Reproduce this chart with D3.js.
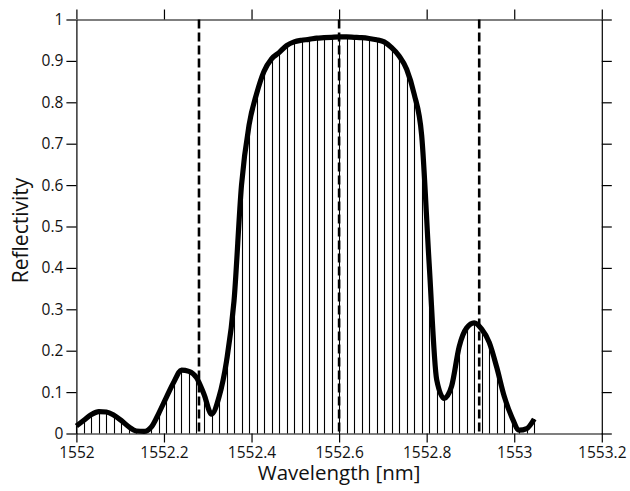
<!DOCTYPE html>
<html>
<head>
<meta charset="utf-8">
<script src="https://cdn.jsdelivr.net/npm/d3@7"></script>
<style>
  body { margin: 0; background: #fff; }
  text { font-family: "Open Sans", "Noto Sans", sans-serif; fill: #111; }
</style>
</head>
<body>
<div class="chart"></div>
<script>
// sample grid of the spectrum (nm)
const wavelength = [
  1552.0000, 1552.0171, 1552.0343, 1552.0514, 1552.0686, 1552.0857, 1552.1029, 1552.1200,
  1552.1371, 1552.1543, 1552.1714, 1552.1886, 1552.2057, 1552.2229, 1552.2400, 1552.2571,
  1552.2743, 1552.2914, 1552.3086, 1552.3257, 1552.3429, 1552.3600, 1552.3771, 1552.3943,
  1552.4114, 1552.4286, 1552.4457, 1552.4629, 1552.4800, 1552.4971, 1552.5143, 1552.5314,
  1552.5486, 1552.5657, 1552.5829, 1552.6000, 1552.6171, 1552.6343, 1552.6514, 1552.6686,
  1552.6857, 1552.7029, 1552.7200, 1552.7371, 1552.7543, 1552.7714, 1552.7886, 1552.8057,
  1552.8229, 1552.8400, 1552.8571, 1552.8743, 1552.8914, 1552.9086, 1552.9257, 1552.9429,
  1552.9600, 1552.9771, 1552.9943, 1553.0114, 1553.0286, 1553.0457
];
const reflectivity = [
  0.018, 0.032, 0.046, 0.053, 0.052, 0.044, 0.031, 0.016,
  0.006, 0.005, 0.016, 0.050, 0.088, 0.125, 0.153, 0.150,
  0.135, 0.095, 0.047, 0.088, 0.175, 0.320, 0.600, 0.745,
  0.820, 0.875, 0.905, 0.920, 0.937, 0.946, 0.950, 0.952,
  0.955, 0.956, 0.957, 0.958, 0.958, 0.957, 0.956, 0.954,
  0.951, 0.946, 0.932, 0.912, 0.880, 0.820, 0.720, 0.410,
  0.130, 0.085, 0.115, 0.210, 0.255, 0.267, 0.252, 0.220,
  0.160, 0.090, 0.040, 0.008, 0.012, 0.035
];
// dashed reference wavelengths
const markers = [1552.28, 1552.6, 1552.92];

const xTicks = [1552, 1552.2, 1552.4, 1552.6, 1552.8, 1553, 1553.2];
const yTicks = [0, 0.1, 0.2, 0.3, 0.4, 0.5, 0.6, 0.7, 0.8, 0.9, 1];

const width = 630, height = 491;
const plotLeft = 76.4, plotRight = 601.8, plotTop = 19.5, plotBottom = 433.5;

const svg = d3.select(".chart")
    .append("svg")
    .attr("width", width)
    .attr("height", height);

const x = d3.scaleLinear().domain([1552, 1553.2]).range([plotLeft, plotRight]);
const y = d3.scaleLinear().domain([0, 1]).range([plotBottom, plotTop]);

const pts = wavelength.map((w, i) => ({w: w, r: reflectivity[i]}));

// vertical hatching under the curve
svg.append("g")
    .selectAll("line")
    .data(pts)
    .join("line")
    .attr("x1", d => Math.round(x(d.w)) + 0.5).attr("x2", d => Math.round(x(d.w)) + 0.5)
    .attr("y1", y(0)).attr("y2", d => y(d.r))
    .attr("stroke", "#000")
    .attr("stroke-width", 1.1);

// axes on all four sides, ticks outward
function styleAxis(g) {
    g.selectAll("path, line").attr("stroke", "#000").attr("stroke-width", 1.2);
    g.selectAll("text").attr("font-size", 15.5).attr("fill", "#111")
        .attr("font-family", "'Open Sans', 'Noto Sans', sans-serif");
}

svg.append("g")
    .attr("transform", `translate(0,${plotBottom})`)
    .call(d3.axisBottom(x).tickValues(xTicks).tickFormat(d => d).tickSize(9).tickSizeOuter(0).tickPadding(4))
    .call(styleAxis);

svg.append("g")
    .attr("transform", `translate(0,${plotTop})`)
    .call(d3.axisTop(x).tickValues(xTicks).tickFormat("").tickSize(10).tickSizeOuter(0))
    .call(styleAxis);

svg.append("g")
    .attr("transform", `translate(${plotLeft},0)`)
    .call(d3.axisLeft(y).tickValues(yTicks).tickFormat(d => d).tickSize(10).tickSizeOuter(0).tickPadding(3))
    .call(styleAxis);

svg.append("g")
    .attr("transform", `translate(${plotRight},0)`)
    .call(d3.axisRight(y).tickValues(yTicks).tickFormat("").tickSize(10).tickSizeOuter(0))
    .call(styleAxis);

// dashed markers
svg.append("g")
    .selectAll("line")
    .data(markers)
    .join("line")
    .attr("x1", d => x(d)).attr("x2", d => x(d))
    .attr("y1", plotTop).attr("y2", plotBottom)
    .attr("stroke", "#000")
    .attr("stroke-width", 2.6)
    .attr("stroke-dasharray", "9,4");

// reflectivity curve
const line = d3.line()
    .x(d => x(d.w))
    .y(d => y(d.r))
    .curve(d3.curveMonotoneX);

svg.append("path")
    .datum(pts)
    .attr("d", line)
    .attr("fill", "none")
    .attr("stroke", "#000")
    .attr("stroke-width", 5.2)
    .attr("stroke-linejoin", "round");

// axis titles
svg.append("text")
    .attr("x", (plotLeft + plotRight) / 2)
    .attr("y", 480)
    .attr("text-anchor", "middle")
    .attr("font-size", 20.5)
    .text("Wavelength [nm]");

svg.append("text")
    .attr("transform", `translate(28,${(plotTop + plotBottom) / 2 + 4}) rotate(-90)`)
    .attr("text-anchor", "middle")
    .attr("font-size", 21)
    .text("Reflectivity");
</script>
</body>
</html>
